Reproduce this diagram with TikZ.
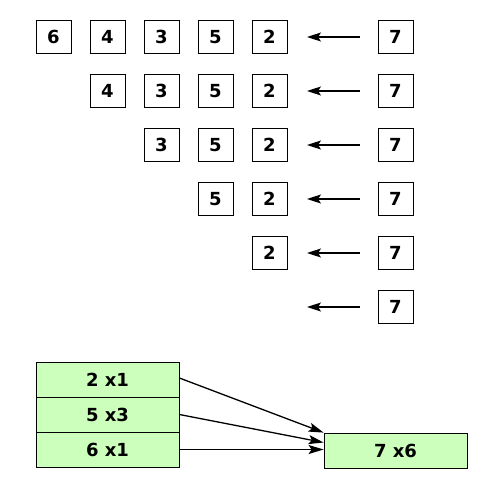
\documentclass[tikz,border=0pt]{standalone}
\usepackage{fontspec}
\setmainfont{DejaVu Sans}
\usepackage{tikz}
\usetikzlibrary{arrows.meta}
\definecolor{cellfill}{HTML}{CCFFBB}

\begin{document}
\begin{tikzpicture}[
    x=1pt, y=-1pt,
    cell/.style={
        draw, line width=0.8pt,
        minimum width=35pt, minimum height=33pt,
        inner sep=0pt,
        font=\fontsize{18}{20}\selectfont\bfseries,
    },
    countbox/.style={
        draw, line width=0.8pt, fill=cellfill,
        minimum width=143pt, minimum height=35pt,
        inner sep=0pt,
        font=\fontsize{18}{20}\selectfont\bfseries,
    },
    pusharrow/.style={
        line width=1.3pt,
        -{Stealth[length=14pt, width=9pt, inset=3pt]},
        shorten <=18pt, shorten >=20pt,
    },
    mergearrow/.style={
        line width=1.3pt,
        -{Stealth[length=15pt, width=9pt, inset=3pt]},
    },
]
\useasboundingbox (0,0) rectangle (500,479);

% =============================================
% STACK ROWS – one row per pop, 7 pushed each time
% =============================================
\foreach \row in {0,...,5} {
  \foreach \val [count=\col from 0] in {6,4,3,5,2} {
    \ifnum\col<\row\else
      \node[cell] (b\row-\col) at (53.5+54*\col, 37+54*\row) {\val};
    \fi
  }
  % incoming element
  \node[cell] (s\row) at (395.5, 37+54*\row) {7};
  % arrow end (left of the incoming element)
  \coordinate (e\row) at (287, 37+54*\row);
  \draw[pusharrow] (s\row.west) -- (e\row);
}

% =============================================
% RESULT – counted stack (left) merged into 7 x6 (right)
% =============================================
\node[countbox] (c1) at (107.5,379.5) {2 x1};
\node[countbox] (c2) at (107.5,414.5) {5 x3};
\node[countbox] (c3) at (107.5,449.5) {6 x1};
\node[countbox] (top) at (395.5,450.5) {7 x6};

\draw[mergearrow] ([yshift=1.5pt]c1.east) -- (top.north west);
\draw[mergearrow] (c2.east) -- ([yshift=8pt]top.west);
\draw[mergearrow] (c3.east) -- (c3.east -| top.west);

\end{tikzpicture}
\end{document}
